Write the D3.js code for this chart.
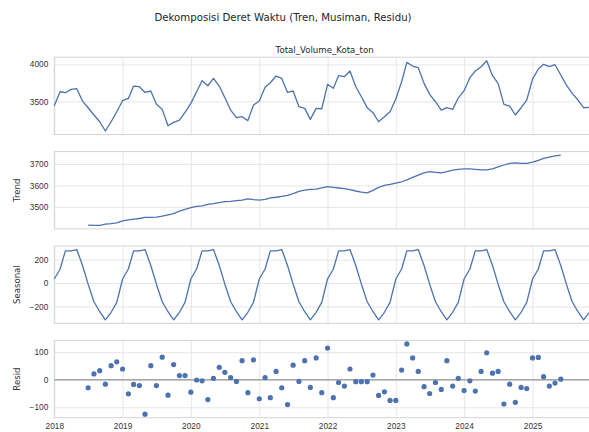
<!DOCTYPE html>
<html>
<head>
<meta charset="utf-8">
<script src="https://cdn.jsdelivr.net/npm/d3@7"></script>
<style>
  body { margin: 0; background: #fff; }
  svg { display: block; font-family: "DejaVu Sans", sans-serif; }
  .tick text { fill: #333; font-size: 8.3px; }
  .grid line { stroke: #e3e3e3; stroke-width: 0.9; }
</style>
</head>
<body>
<div id="chart"></div>
<script>
// Monthly series, Jan 2018 .. Dec 2025
let observed = [
  3441, 3630, 3617, 3662, 3671, 3504, 3414, 3316, 3225, 3100, 3225, 3360,
  3509, 3540, 3707, 3698, 3620, 3640, 3460, 3392, 3170, 3216, 3248, 3350,
  3473, 3630, 3779, 3711, 3810, 3707, 3550, 3383, 3280, 3293, 3240, 3450,
  3505, 3690, 3752, 3842, 3810, 3621, 3640, 3428, 3405, 3257, 3405, 3400,
  3730, 3676, 3847, 3833, 3910, 3698, 3563, 3415, 3347, 3225, 3293, 3360,
  3531, 3765, 4027, 3977, 3955, 3743, 3595, 3495, 3383, 3415, 3392, 3545,
  3644, 3820, 3910, 3968, 4049, 3847, 3743, 3460, 3437, 3316, 3414, 3518,
  3801, 3937, 4000, 3968, 3995, 3856, 3720, 3608, 3518, 3414, 3419, 3400
];

// Jul 2018 .. Jun 2025
let trend = [
  3415, 3414, 3414, 3420, 3422, 3426,
  3435, 3440, 3443, 3446, 3451, 3451, 3452, 3457, 3463, 3469, 3480, 3489,
  3497, 3502, 3505, 3512, 3515, 3520, 3525, 3526, 3529, 3532, 3537, 3534,
  3532, 3535, 3542, 3545, 3549, 3554, 3562, 3572, 3578, 3582, 3583, 3589,
  3594, 3591, 3588, 3585, 3580, 3574, 3569, 3565, 3577, 3591, 3600, 3605,
  3611, 3617, 3626, 3637, 3648, 3658, 3664, 3661, 3658, 3664, 3671, 3675,
  3677, 3677, 3675, 3672, 3672, 3677, 3686, 3695, 3703, 3705, 3703, 3703,
  3708, 3717, 3726, 3732, 3737, 3741
];

// Jan 2018 .. Dec 2025
let seasonal = [
  34, 120, 274, 274, 286, 150, -10, -160, -245, -314, -250, -165,
  34, 120, 274, 274, 286, 150, -10, -160, -245, -314, -250, -165,
  34, 120, 274, 274, 286, 150, -10, -160, -245, -314, -250, -165,
  34, 120, 274, 274, 286, 150, -10, -160, -245, -314, -250, -165,
  34, 120, 274, 274, 286, 150, -10, -160, -245, -314, -250, -165,
  34, 120, 274, 274, 286, 150, -10, -160, -245, -314, -250, -165,
  34, 120, 274, 274, 286, 150, -10, -160, -245, -314, -250, -165,
  34, 120, 274, 274, 286, 150, -10, -160, -245, -314, -250, -165
];

// Jul 2018 .. Jun 2025
let resid = [
  -29, 21, 33, -16, 51, 65,
  39, -51, -17, -21, -125, 51, -21, 82, -56, 55, 15, 15,
  -45, -1, -4, -72, 5, 45, 27, 8, -6, 69, -47, 72,
  -69, 8, -65, 30, -29, -90, 53, -6, 69, -28, 79, -47,
  115, -65, -10, -23, 39, -7, -7, -7, 17, -57, -44, -75,
  -75, 35, 130, 79, 30, -25, -50, -10, -35, 69, -23, 5,
  -39, -4, -41, 30, 98, 24, 30, -88, -16, -82, -28, -32,
  79, 81, 11, -23, -12, 2
];

let yearTicks = [2018, 2019, 2020, 2021, 2022, 2023, 2024, 2025];

let width = 589, height = 432;
let left = 54.3, right = 595;
let panelTop = 57.2, panelH = 77.3, panelStep = 94.4;
let blue = "#4c72b0";

let months = d3.timeMonth.range(new Date(2018, 0, 1), new Date(2026, 0, 1));
let trendMonths = months.slice(6, 6 + trend.length);

let svg = d3.select("#chart")
  .append("svg")
    .attr("width", width)
    .attr("height", height);

svg.append("text")
  .attr("x", 283)
  .attr("y", 21)
  .attr("text-anchor", "middle")
  .attr("font-size", "10.2px")
  .attr("fill", "#262626")
  .text("Dekomposisi Deret Waktu (Tren, Musiman, Residu)");

let x = d3.scaleTime()
  .domain([months[0], months[months.length - 1]])
  .range([left, right]);

let panels = [
  { values: observed, dates: months, label: null, ticks: [3500, 4000], kind: "line" },
  { values: trend, dates: trendMonths, label: "Trend", ticks: [3500, 3600, 3700], kind: "line" },
  { values: seasonal, dates: months, label: "Seasonal", ticks: [-200, 0, 200], kind: "line" },
  { values: resid, dates: trendMonths, label: "Resid", ticks: [-100, 0, 100], kind: "dots" }
];

let fmt = d => (d < 0 ? "\u2212" + Math.abs(d) : "" + d);

panels.forEach((p, i) => {
  let top = panelTop + i * panelStep;
  let bottom = top + panelH;
  let ext = d3.extent(p.values);
  let pad = (ext[1] - ext[0]) * 0.05;
  let y = d3.scaleLinear()
    .domain([ext[0] - pad, ext[1] + pad])
    .range([bottom, top]);

  let g = svg.append("g");

  // grid lines
  g.append("g")
    .attr("class", "grid")
    .attr("transform", `translate(0,${bottom})`)
    .call(d3.axisBottom(x).tickValues(yearTicks.map(yr => new Date(yr, 0, 1))).tickSize(-panelH).tickFormat(""))
    .call(a => a.select(".domain").remove());
  g.append("g")
    .attr("class", "grid")
    .attr("transform", `translate(${left},0)`)
    .call(d3.axisLeft(y).tickValues(p.ticks).tickSize(-(right - left)).tickFormat(""))
    .call(a => a.select(".domain").remove());

  // y tick labels
  g.append("g")
    .attr("transform", `translate(${left},0)`)
    .call(d3.axisLeft(y).tickValues(p.ticks).tickSize(0).tickPadding(6).tickFormat(fmt))
    .call(a => a.select(".domain").remove());

  // frame
  g.append("rect")
    .attr("x", left)
    .attr("y", top)
    .attr("width", right - left)
    .attr("height", panelH)
    .attr("fill", "none")
    .attr("stroke", "#d4d4d4")
    .attr("stroke-width", 1);

  if (p.kind === "line") {
    g.append("path")
      .datum(p.values)
      .attr("fill", "none")
      .attr("stroke", blue)
      .attr("stroke-width", 1.3)
      .attr("stroke-linejoin", "round")
      .attr("d", d3.line().x((d, j) => x(p.dates[j])).y(d => y(d)));
  } else {
    g.append("line")
      .attr("x1", left)
      .attr("x2", right)
      .attr("y1", y(0))
      .attr("y2", y(0))
      .attr("stroke", "#a6a6a6")
      .attr("stroke-width", 1.4);
    g.selectAll("circle")
      .data(p.values)
      .join("circle")
        .attr("cx", (d, j) => x(p.dates[j]))
        .attr("cy", d => y(d))
        .attr("r", 2.6)
        .attr("fill", blue);
  }

  if (i === 0) {
    g.append("text")
      .attr("x", (left + right) / 2)
      .attr("y", top - 4.5)
      .attr("text-anchor", "middle")
      .attr("font-size", "8.6px")
      .attr("fill", "#262626")
      .text("Total_Volume_Kota_ton");
  }

  if (p.label) {
    g.append("text")
      .attr("transform", `translate(19.5,${(top + bottom) / 2}) rotate(-90)`)
      .attr("text-anchor", "middle")
      .attr("font-size", "8.6px")
      .attr("fill", "#333")
      .text(p.label);
  }

  if (i === panels.length - 1) {
    g.append("g")
      .attr("transform", `translate(0,${bottom})`)
      .call(d3.axisBottom(x).tickValues(yearTicks.map(yr => new Date(yr, 0, 1))).tickSize(0).tickPadding(5.5).tickFormat(d3.timeFormat("%Y")))
      .call(a => a.select(".domain").remove());
  }
});
</script>
</body>
</html>
